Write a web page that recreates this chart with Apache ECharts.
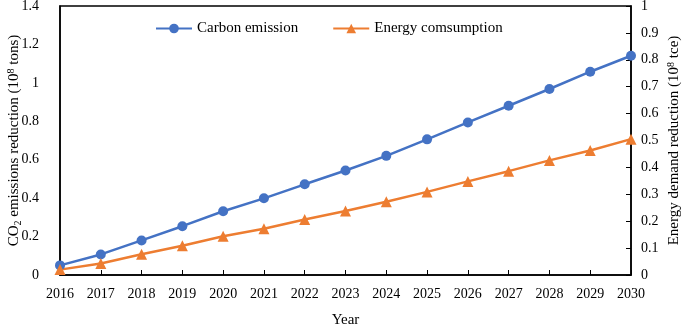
<!DOCTYPE html>
<html><head><meta charset="utf-8">
<script src="https://cdn.jsdelivr.net/npm/echarts@6/dist/echarts.min.js"></script>
<style>html,body{margin:0;padding:0;background:#fff}#c{width:692px;height:328px}</style>
</head><body><div id="c"></div>
<script>
const years = ['2016','2017','2018','2019','2020','2021','2022','2023','2024','2025','2026','2027','2028','2029','2030'];
const carbonEmission = [0.05,0.107,0.18,0.254,0.332,0.399,0.472,0.544,0.62,0.706,0.794,0.881,0.968,1.058,1.141];
const energyConsumption = [0.02,0.043,0.077,0.109,0.144,0.172,0.206,0.238,0.272,0.309,0.348,0.386,0.426,0.463,0.505];
const seriesNames = ['Carbon emission','Energy comsumption'];

const FONT = 'Liberation Serif';
const chart = echarts.init(document.getElementById('c'));
const titleRich = {
  n: {fontFamily: FONT, fontSize: 15, color: '#000', lineHeight: 17},
  sub: {fontFamily: FONT, fontSize: 10, color: '#000', verticalAlign: 'bottom', lineHeight: 17},
  sup: {fontFamily: FONT, fontSize: 10, color: '#000', verticalAlign: 'top', lineHeight: 17}
};
chart.setOption({
  animation: false,
  textStyle: {fontFamily: FONT, color: '#000'},
  grid: {left: 60, right: 61, top: 6, bottom: 53, containLabel: false, outerBoundsMode: 'none',
    show: true, borderColor: '#000', borderWidth: 1.5, backgroundColor: 'transparent'},
  legend: {
    top: 16, left: 150, itemGap: 34, itemWidth: 36, itemHeight: 12,
    textStyle: {fontFamily: FONT, fontSize: 15, color: '#000'},
    data: seriesNames
  },
  xAxis: {
    type: 'category', data: years, boundaryGap: false,
    name: 'Year', nameLocation: 'middle', nameGap: 38, nameMoveOverlap: false,
    nameTextStyle: {fontFamily: FONT, fontSize: 15, color: '#000'},
    axisLine: {lineStyle: {color: '#000', width: 1.5}},
    axisTick: {inside: true, length: 5, lineStyle: {color: '#000'}},
    axisLabel: {fontFamily: FONT, fontSize: 14, color: '#000', margin: 12},
    splitLine: {show: false}
  },
  yAxis: [{
    type: 'value', min: 0, max: 1.4, interval: 0.2,
    name: '{n|CO}{sub|2}{n| emissions reduction (10}{sup|8}{n| tons)}',
    nameLocation: 'middle', nameGap: 37, nameRotate: 90, nameMoveOverlap: false,
    nameTextStyle: {rich: titleRich},
    axisLine: {show: true, lineStyle: {color: '#000', width: 1.5}},
    axisTick: {show: false},
    axisLabel: {fontFamily: FONT, fontSize: 14, color: '#000', margin: 21},
    splitLine: {show: false}
  }, {
    type: 'value', min: 0, max: 1, interval: 0.1, position: 'right',
    name: '{n|Energy demand reduction (10}{sup|8}{n| tce)}',
    nameLocation: 'middle', nameGap: 35, nameRotate: 90, nameMoveOverlap: false,
    nameTextStyle: {rich: titleRich},
    axisLine: {show: true, lineStyle: {color: '#000', width: 1.5}},
    axisTick: {show: true, inside: true, length: 5, lineStyle: {color: '#000'}},
    axisLabel: {fontFamily: FONT, fontSize: 14, color: '#000', margin: 10},
    splitLine: {show: false}
  }],
  series: [{
    name: seriesNames[0], type: 'line', yAxisIndex: 0, data: carbonEmission,
    symbol: 'circle', symbolSize: 10,
    lineStyle: {color: '#4472C4', width: 2.5},
    itemStyle: {color: '#4472C4'}
  }, {
    name: seriesNames[1], type: 'line', yAxisIndex: 1, data: energyConsumption,
    symbol: 'triangle', symbolSize: 11,
    lineStyle: {color: '#ED7D31', width: 2.5},
    itemStyle: {color: '#ED7D31'}
  }]
});
</script></body></html>
